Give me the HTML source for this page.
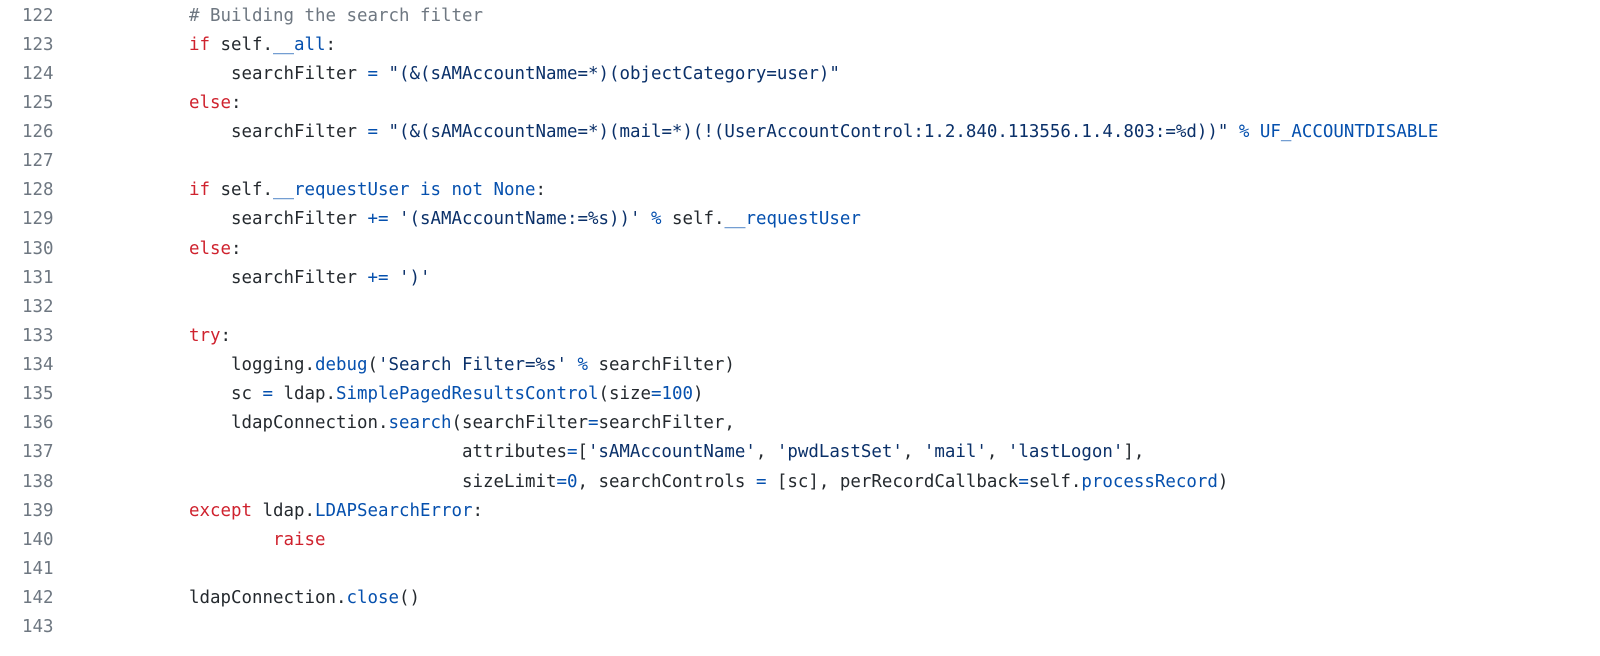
<!DOCTYPE html>
<html><head><meta charset="utf-8"><style>
body{margin:0;background:#fff;width:1600px;height:656px;overflow:hidden}
.w{position:absolute;top:1.5px;left:0;font-family:"DejaVu Sans Mono","Liberation Mono",monospace;font-size:17.45px;line-height:29.14px;color:#24292e}
.w>div{position:relative;height:29.14px}
.n{position:absolute;left:22px;color:#6e7781}
.c{position:absolute;left:189px;white-space:pre}
.k{color:#cf222e}.b{color:#0550ae}.g{color:#6e7781}.s{color:#0a3069}
</style></head><body>
<div class="w"><div><span class="n">122</span><span class="c"><span class="g"># Building the search filter</span></span></div><div><span class="n">123</span><span class="c"><span class="k">if</span> self.<span class="b">__all</span>:</span></div><div><span class="n">124</span><span class="c">    searchFilter <span class="b">=</span> <span class="s">"(&amp;(sAMAccountName=*)(objectCategory=user)"</span></span></div><div><span class="n">125</span><span class="c"><span class="k">else</span>:</span></div><div><span class="n">126</span><span class="c">    searchFilter <span class="b">=</span> <span class="s">"(&amp;(sAMAccountName=*)(mail=*)(!(UserAccountControl:1.2.840.113556.1.4.803:=%d))"</span> <span class="b">%</span> <span class="b">UF_ACCOUNTDISABLE</span></span></div><div><span class="n">127</span></div><div><span class="n">128</span><span class="c"><span class="k">if</span> self.<span class="b">__requestUser</span> <span class="b">is not</span> <span class="b">None</span>:</span></div><div><span class="n">129</span><span class="c">    searchFilter <span class="b">+=</span> <span class="s">'(sAMAccountName:=%s))'</span> <span class="b">%</span> self.<span class="b">__requestUser</span></span></div><div><span class="n">130</span><span class="c"><span class="k">else</span>:</span></div><div><span class="n">131</span><span class="c">    searchFilter <span class="b">+=</span> <span class="s">')'</span></span></div><div><span class="n">132</span></div><div><span class="n">133</span><span class="c"><span class="k">try</span>:</span></div><div><span class="n">134</span><span class="c">    logging.<span class="b">debug</span>(<span class="s">'Search Filter=%s'</span> <span class="b">%</span> searchFilter)</span></div><div><span class="n">135</span><span class="c">    sc <span class="b">=</span> ldap.<span class="b">SimplePagedResultsControl</span>(size<span class="b">=100</span>)</span></div><div><span class="n">136</span><span class="c">    ldapConnection.<span class="b">search</span>(searchFilter<span class="b">=</span>searchFilter,</span></div><div><span class="n">137</span><span class="c">                          attributes<span class="b">=</span>[<span class="s">'sAMAccountName'</span>, <span class="s">'pwdLastSet'</span>, <span class="s">'mail'</span>, <span class="s">'lastLogon'</span>],</span></div><div><span class="n">138</span><span class="c">                          sizeLimit<span class="b">=0</span>, searchControls <span class="b">=</span> [sc], perRecordCallback<span class="b">=</span>self.<span class="b">processRecord</span>)</span></div><div><span class="n">139</span><span class="c"><span class="k">except</span> ldap.<span class="b">LDAPSearchError</span>:</span></div><div><span class="n">140</span><span class="c">        <span class="k">raise</span></span></div><div><span class="n">141</span></div><div><span class="n">142</span><span class="c">ldapConnection.<span class="b">close</span>()</span></div><div><span class="n">143</span></div></div>
</body></html>
